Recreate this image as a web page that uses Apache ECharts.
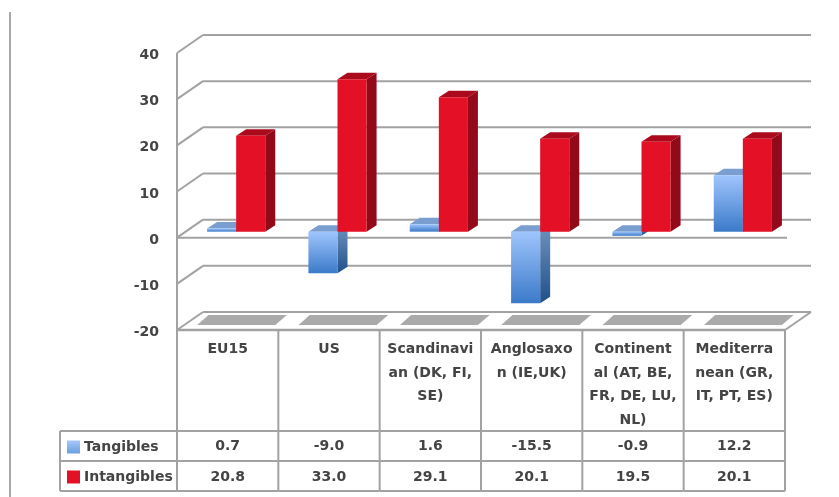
<!DOCTYPE html>
<html>
<head>
<meta charset="utf-8">
<style>
html,body{margin:0;padding:0;background:#fff}
#c{width:839px;height:497px;filter:blur(0.5px)}
</style>
<script src="https://cdn.jsdelivr.net/npm/echarts@6/dist/echarts.min.js"></script>
</head>
<body>
<div id="c"></div>
<script>
const categories = ["EU15","US","Scandinavi\nan (DK, FI,\nSE)","Anglosaxo\nn (IE,UK)","Continent\nal (AT, BE,\nFR, DE, LU,\nNL)","Mediterra\nnean (GR,\nIT, PT, ES)"];
const tangibles = [0.7,-9.0,1.6,-15.5,-0.9,12.2];
const intangibles = [20.8,33.0,29.1,20.1,19.5,20.1];
const yTicks = [-20,-10,0,10,20,30,40];

const FONT = '"DejaVu Sans", sans-serif';
const TEXT = '#444444';
const GRID = '#a2a2a2';
const BACK = [26,-18];
const BAR_OFF = [8.5,-6];
const DEPTH = [10,-6.5];
const grad = (a,b) => new echarts.graphic.LinearGradient(0,0,0,1,[{offset:0,color:a},{offset:1,color:b}]);
const chart = echarts.init(document.getElementById('c'));

function poly(points, fill){
  return {type:'polygon',shape:{points:points},style:{fill:fill,stroke:null}};
}
function line(x1,y1,x2,y2,w){
  return {type:'line',shape:{x1,y1,x2,y2},style:{stroke:GRID,lineWidth:w||2,fill:null}};
}
function renderBar(side, pal){
  return function(params, api){
    const cat = api.value(0), v = api.value(1);
    const cw = api.size([1,0])[0], w = cw*0.287;
    const top = api.coord([cat,v]), base = api.coord([cat,0]);
    const x0 = base[0] + BAR_OFF[0] + (side<0 ? -w : 0), x1 = x0 + w;
    const yBase = base[1] + BAR_OFF[1];
    const yVal = top[1] + BAR_OFF[1];
    const yT = Math.min(yBase,yVal), yB = Math.max(yBase,yVal);
    const d = DEPTH;
    return {type:'group',children:[
      poly([[x1,yT],[x1+d[0],yT+d[1]],[x1+d[0],yB+d[1]],[x1,yB]], pal.side),
      poly([[x0,yT],[x1,yT],[x1+d[0],yT+d[1]],[x0+d[0],yT+d[1]]], pal.cap),
      {type:'rect',shape:{x:x0,y:yT,width:w,height:yB-yT},style:{fill:pal.front}}
    ]};
  };
}
const bluePal = {front:grad('#9fc5fd','#3b7ac9'),side:grad('#6f93bd','#20508a'),cap:'#7a9ed0'};
const redPal = {front:'#e41026',side:'#93091a',cap:'#ab0a1c'};

const option = {
  animation:false,
  backgroundColor:'#fff',
  grid:{left:177,right:54,top:53,bottom:167,containLabel:false},
  legend:{
    show:true,orient:'vertical',left:67,top:440,itemWidth:13,itemHeight:13,itemGap:16,icon:'rect',
    data:[{name:'Tangibles',icon:'rect'},{name:'Intangibles',icon:'rect'}],selectedMode:false,padding:0,
    textStyle:{fontFamily:FONT,fontWeight:'bold',fontSize:14,color:TEXT,padding:[0,0,0,-1]}
  },
  xAxis:{type:'category',data:categories,axisLine:{show:false},axisTick:{show:false},splitLine:{show:false},
    axisLabel:{interval:0,margin:8,fontFamily:FONT,fontWeight:'bold',fontSize:14,color:TEXT,lineHeight:23.5,align:'center',verticalAlign:'top'}},
  yAxis:{type:'value',min:-20,max:40,interval:10,axisLine:{show:false},axisTick:{show:false},splitLine:{show:false},
    axisLabel:{margin:18,fontFamily:FONT,fontWeight:'bold',fontSize:14,color:TEXT,verticalAlign:'top',lineHeight:5,
      formatter:function(v){return yTicks.indexOf(v)>=0?String(v):'';}}},
  graphic:[{type:'rect',left:9,top:12,shape:{width:2,height:485},style:{fill:'#a8a8a8'}}],
  series:[
    {name:'walls',type:'custom',coordinateSystem:'cartesian2d',z:1,silent:true,data:yTicks.map(t=>[0,t]),
      renderItem:function(params,api){
        const cs = params.coordSys, t = api.value(1), y = api.coord([0,t])[1];
        const xL = cs.x, xR = cs.x+cs.width;
        const ch = [line(xL,y,xL+BACK[0],y+BACK[1]), line(xL+BACK[0],y+BACK[1],xR+BACK[0],y+BACK[1])];
        if(t===0) ch.push(line(xL,y,xR+2,y));
        if(t===-20){ ch.push(line(xL,y,xR,y,2.4)); ch.push(line(xR,y,xR+BACK[0],y+BACK[1])); }
        if(t===40) ch.push(line(xL,y,xL,cs.y+cs.height));
        return {type:'group',children:ch};
      }},
    {name:'shadow',type:'custom',coordinateSystem:'cartesian2d',z:2,silent:true,data:categories.map((c,i)=>[i,-20]),
      renderItem:function(params,api){
        const p = api.coord([api.value(0),api.value(1)]);
        const cw = api.size([1,0])[0], c = p[0], y = p[1];
        const f = 5, b = 15;
        return poly([[c-cw*0.30,y-f],[c+cw*0.47,y-f],[c+cw*0.585,y-b],[c-cw*0.19,y-b]],'#aaaaaa');
      }},
    {name:'Tangibles',type:'custom',coordinateSystem:'cartesian2d',z:3,itemStyle:{color:grad('#a4c8fb','#6b9fe0')},
      data:tangibles.map((v,i)=>[i,v]),renderItem:renderBar(-1,bluePal)},
    {name:'Intangibles',type:'custom',coordinateSystem:'cartesian2d',z:4,itemStyle:{color:'#e41026'},
      data:intangibles.map((v,i)=>[i,v]),renderItem:renderBar(1,redPal)},
    {name:'table',type:'custom',coordinateSystem:'cartesian2d',z:5,silent:true,clip:false,
      data:categories.map((c,i)=>[i,-20]),
      renderItem:function(params,api){
        const i = api.value(0), p = api.coord([i,-20]), cw = api.size([1,0])[0];
        const y0 = p[1], xL = p[0]-cw/2, xR = p[0]+cw/2;
        const r1 = y0+101, r2 = y0+131, r3 = y0+161;
        const ch = [line(xR,y0,xR,r3), line(xL,r1,xR,r1), line(xL,r2,xR,r2), line(xL,r3,xR,r3)];
        const txt = (s,y)=>({type:'text',style:{text:s,x:p[0],y:y,align:'center',verticalAlign:'middle',
          fontFamily:FONT,fontWeight:'bold',fontSize:14,fill:TEXT}});
        ch.push(txt(tangibles[i].toFixed(1),y0+116), txt(intangibles[i].toFixed(1),y0+147));
        if(i===0){
          const xH = xL-117;
          ch.push(line(xL,y0,xL,r3), line(xH,r1,xH,r3), line(xH,r1,xL,r1), line(xH,r2,xL,r2), line(xH,r3,xL,r3));
        }
        return {type:'group',children:ch};
      }}
  ]
};
chart.setOption(option);
</script>
</body>
</html>
